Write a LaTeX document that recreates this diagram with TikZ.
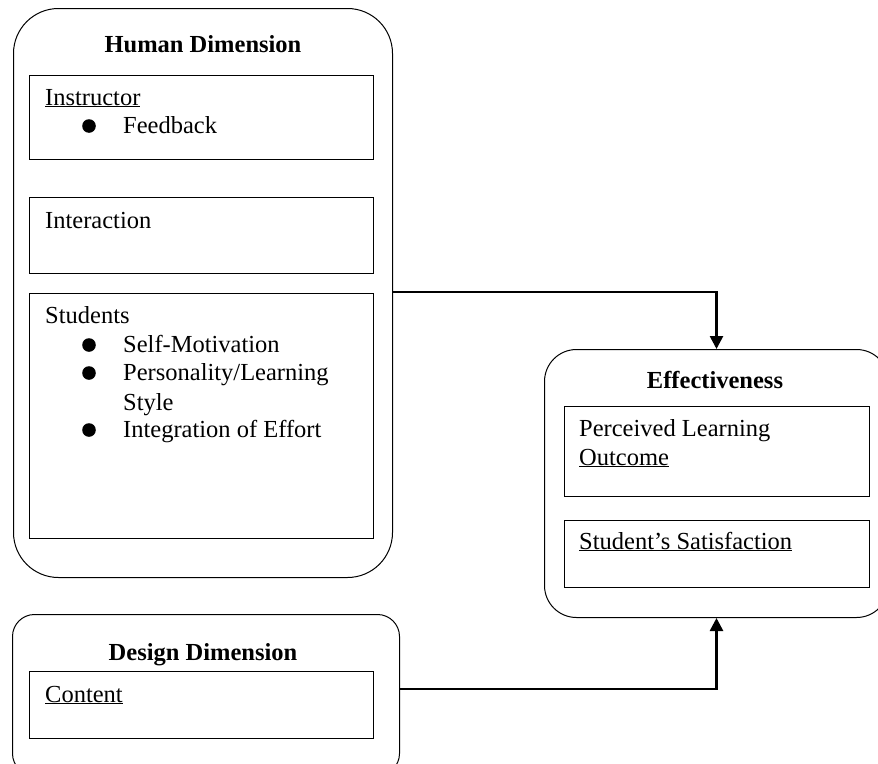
\documentclass[tikz,border=0pt]{standalone}
\usepackage{fontspec}
\setmainfont{Liberation Serif}
\usetikzlibrary{arrows.meta}
\begin{document}
\begin{tikzpicture}[x=1pt,y=-1pt,
  outer/.style={draw, line width=1pt, anchor=north west, inner sep=0pt},
  inbox/.style={draw, line width=1.3pt, anchor=north west, inner sep=0pt, minimum width=344pt},
  txt/.style={anchor=base west, inner sep=0pt, font=\fontsize{24.5}{28}\selectfont},
  title/.style={anchor=base, inner sep=0pt, font=\fontsize{24.5}{28}\selectfont\bfseries},
  conn/.style={line width=2.6pt, -{Triangle[length=13pt,width=13pt]}},
  dot/.style={fill=black}]
\useasboundingbox (0,0) rectangle (878,763);
% Human dimension
\node[outer, rounded corners=45pt, minimum width=379pt, minimum height=569pt] (human) at (13,8) {};
\node[title] (htitle) at (203,52) {Human Dimension};
\node[inbox, minimum height=84pt] (instr) at (29,75) {};
\node[inbox, minimum height=76pt] (inter) at (29,197) {};
\node[inbox, minimum height=245pt] (stud) at (29,293) {};
\node[txt] (tinstr) at (45,105) {\underline{Instructor}};
\fill[dot] (89,126) circle (6.8);
\node[txt] (tfeed) at (123,133) {Feedback};
\node[txt] (tinter) at (45,228) {Interaction};
\node[txt] (tstud) at (45,323) {Students};
\fill[dot] (89,345) circle (6.8);
\node[txt] (tself) at (123,352) {Self-Motivation};
\fill[dot] (89,373) circle (6.8);
\node[txt] (tpers) at (123,380) {Personality/Learning};
\node[txt] (tstyle) at (123,410) {Style};
\fill[dot] (89,430) circle (6.8);
\node[txt] (tinteg) at (123,437) {Integration of Effort};
% Effectiveness
\node[outer, rounded corners=32pt, minimum width=344pt, minimum height=268pt] (eff) at (544,349) {};
\node[title] (etitle) at (715,388) {Effectiveness};
\node[draw, line width=1.3pt, anchor=north west, inner sep=0pt, minimum width=305pt, minimum height=90pt] (perc) at (564,406) {};
\node[draw, line width=1.3pt, anchor=north west, inner sep=0pt, minimum width=305pt, minimum height=67pt] (sat) at (564,520) {};
\node[txt] (tperc) at (579,436) {Perceived Learning};
\node[txt] (tout) at (579,465) {\underline{Outcome}};
\node[txt] (tsat) at (579,549) {\underline{Student’s Satisfaction}};
% Design dimension
\node[outer, rounded corners=22pt, minimum width=387pt, minimum height=161pt] (design) at (12,614) {};
\node[title] (dtitle) at (203,660) {Design Dimension};
\node[inbox, minimum height=67pt] (content) at (29,671) {};
\node[txt] (tcont) at (45,702) {\underline{Content}};
% connectors
\coordinate (h1) at (392,292);
\coordinate (d1) at (399,689);
\draw[conn] (h1) -| (eff.north);
\draw[conn] (d1) -| (eff.south);
\end{tikzpicture}
\end{document}
